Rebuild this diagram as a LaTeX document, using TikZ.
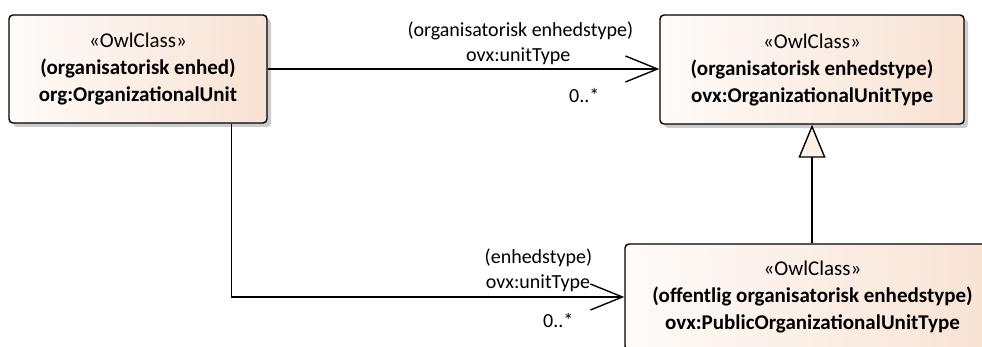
\documentclass[tikz,border=0pt]{standalone}
\usepackage{fontspec}
\setmainfont{Carlito}
\usetikzlibrary{arrows.meta,shadows,positioning}
\definecolor{boxleft}{RGB}{254,251,249}
\definecolor{boxright}{RGB}{248,226,211}
\definecolor{genfill}{RGB}{251,241,229}

\begin{document}
\begin{tikzpicture}[
  x=1pt,y=1pt,
  owlclass/.style={draw,line width=1.4pt,rounded corners=4pt,
    left color=boxleft,right color=boxright,
    drop shadow={shadow xshift=4pt,shadow yshift=-4pt,fill=black!40,opacity=0.5},
    align=center,inner sep=0pt,font=\fontsize{21}{27}\selectfont},
  assoc/.style={line width=1.4pt,-{Straight Barb[length=32pt,width=26pt,line width=1.4pt]}},
  gen/.style={line width=1.4pt,-{Triangle[open,fill=genfill,length=33pt,width=27pt]}},
  role/.style={inner sep=0pt,font=\fontsize{20}{24}\selectfont}
  ]
  \useasboundingbox (0,0) rectangle (982,347);

  \node[owlclass,minimum width=258,minimum height=108] (NOrgUnit) at (138,278)
    {«OwlClass»\\\textbf{(organisatorisk enhed)}\\\textbf{org:OrganizationalUnit}};
  \node[owlclass,minimum width=304,minimum height=109] (NUnitType) at (812,277.5)
    {«OwlClass»\\\textbf{(organisatorisk enhedstype)}\\\textbf{ovx:OrganizationalUnitType}};
  \node[owlclass,minimum width=375,minimum height=106] (NPubUnitType) at (812.5,50)
    {«OwlClass»\\\textbf{(offentlig organisatorisk enhedstype)}\\\textbf{ovx:PublicOrganizationalUnitType}};

  \draw[assoc] (NOrgUnit.east) -- (NOrgUnit.east -| NUnitType.west);
  \draw[assoc] (NOrgUnit.south east) ++(-36,0) |- (NPubUnitType.west);
  \draw[gen] (NPubUnitType.north -| NUnitType.south) -- (NUnitType.south);

  \path (NUnitType.west) ++(-139,39) node[role] (NTypeAlias) {(organisatorisk enhedstype)};
  \path (NUnitType.west) ++(-141,13) node[role] (NTypeName) {ovx:unitType};
  \path (NUnitType.west) ++(-75,-26) node[role] (NTypeMult) {0..*};
  \path (NPubUnitType.west) ++(-32,39) node[role,anchor=east] (NPubAlias) {(enhedstype)};
  \path (NPubUnitType.west) ++(-34,14) node[role,anchor=east] (NPubName) {ovx:unitType};
  \path (NPubUnitType.west) ++(-66,-23) node[role] (NPubMult) {0..*};
\end{tikzpicture}
\end{document}
